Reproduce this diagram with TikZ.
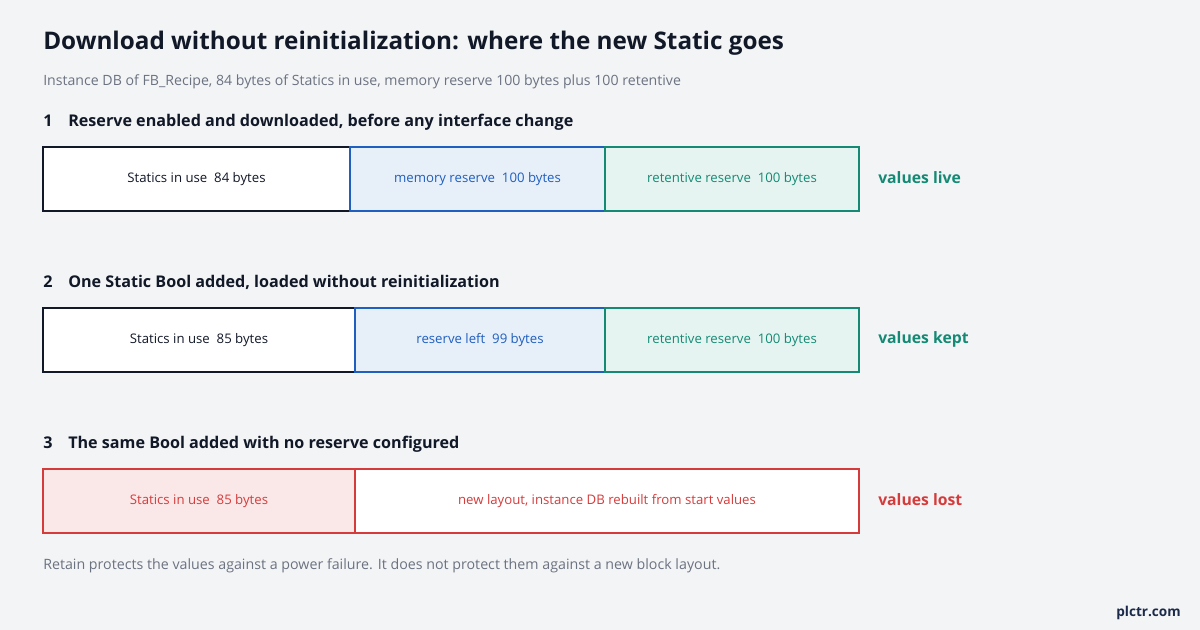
\documentclass[tikz,border=0pt]{standalone}
\usepackage{fontspec}
\setmainfont{Open Sans}
\definecolor{bg}{HTML}{F3F4F6}
\definecolor{ink}{HTML}{111827}
\definecolor{muted}{HTML}{6B7280}
\definecolor{blu}{HTML}{1F5FBF}
\definecolor{blufill}{HTML}{E7EFF9}
\definecolor{grn}{HTML}{148A74}
\definecolor{grnfill}{HTML}{E6F4F1}
\definecolor{rd}{HTML}{D63B3B}
\definecolor{rdfill}{HTML}{FAE7E7}
\definecolor{navy}{HTML}{1B2A4A}
\tikzset{
  seg/.style={draw, line width=1.5pt, minimum height=48pt, anchor=west, inner sep=0pt, outer sep=0pt, font=\fontsize{9.9}{12}\selectfont},
  inuse/.style={seg, draw=ink, fill=white, text=ink},
  memres/.style={seg, draw=blu, fill=blufill, text=blu},
  retres/.style={seg, draw=grn, fill=grnfill, text=grn},
  lostuse/.style={seg, draw=rd, fill=rdfill, text=rd},
  lostnew/.style={seg, draw=rd, fill=white, text=rd},
  head/.style={anchor=base west, inner sep=0pt, font=\fontsize{12.1}{15}\selectfont\bfseries, text=ink},
  verdict/.style={anchor=west, inner sep=0pt, font=\fontsize{11.8}{14}\selectfont\bfseries},
}
\begin{document}
\begin{tikzpicture}[x=0.75pt,y=-0.75pt]
\path[fill=bg] (0,0) rectangle (1200,630);
\node[anchor=base west, inner sep=0pt, font=\fontsize{18.2}{22}\selectfont\bfseries, text=ink] (title) at (43,50) {Download without reinitialization: where the new Static goes};
\node[anchor=base west, inner sep=0pt, font=\fontsize{10.6}{12}\selectfont, text=muted] (sub) at (43,86) {Instance DB of FB\_Recipe, 84 bytes of Statics in use, memory reserve 100 bytes plus 100 retentive};

% row 1
\node[head] (h1n) at (43,127) {1};
\node[head] (h1) at (68,127) {Reserve enabled and downloaded, before any interface change};
\node[inuse, minimum width=230.25pt] (a1) at (43,179) {Statics in use\ \ 84 bytes};
\node[memres, minimum width=191.25pt] (b1) at (350,179) {memory reserve\ \ 100 bytes};
\node[retres, minimum width=190.5pt] (c1) at (605,179) {retentive reserve\ \ 100 bytes};
\node[verdict, text=grn] (v1) at (878,178) {values live};

% row 2
\node[head] (h2n) at (43,288) {2};
\node[head] (h2) at (68,288) {One Static Bool added, loaded without reinitialization};
\node[inuse, minimum width=234pt] (a2) at (43,340) {Statics in use\ \ 85 bytes};
\node[memres, minimum width=187.5pt] (b2) at (355,340) {reserve left\ \ 99 bytes};
\node[retres, minimum width=190.5pt] (c2) at (605,340) {retentive reserve\ \ 100 bytes};
\node[verdict, text=grn] (v2) at (878,339) {values kept};

% row 3
\node[head] (h3n) at (43,449) {3};
\node[head] (h3) at (68,449) {The same Bool added with no reserve configured};
\node[lostuse, minimum width=234pt] (a3) at (43,501) {Statics in use\ \ 85 bytes};
\node[lostnew, minimum width=378pt] (b3) at (355,501) {new layout, instance DB rebuilt from start values};
\node[verdict, text=rd] (v3) at (878,500) {values lost};

\node[anchor=base west, inner sep=0pt, font=\fontsize{10.67}{13}\selectfont, text=muted] (foot) at (43,570) {Retain protects the values against a power failure. It does not protect them against a new block layout.};
\node[anchor=base east, inner sep=0pt, font=\fontsize{10.2}{12}\selectfont\bfseries, text=navy] (brand) at (1181,617) {plctr.com};
\end{tikzpicture}
\end{document}
